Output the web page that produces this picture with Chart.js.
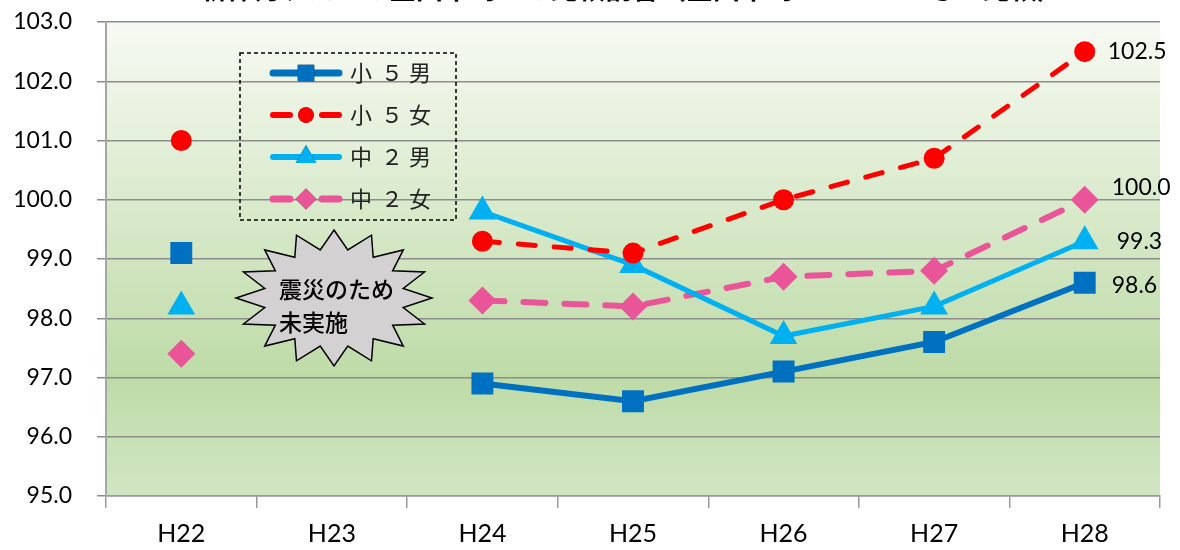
<!DOCTYPE html>
<html lang="ja">
<head>
<meta charset="utf-8">
<title>新体力テスト 全国平均との比較割合</title>
<script src="https://cdn.jsdelivr.net/npm/chart.js@4.4.1/dist/chart.umd.min.js"></script>
<style>
  html, body { margin: 0; padding: 0; background: #fff; }
  #wrap { width: 1180px; height: 550px; }
</style>
</head>
<body>
<div id="wrap"><canvas id="grafico" width="1180" height="550"></canvas></div>
<script>
// Dados do gráfico
const anos = ["H22", "H23", "H24", "H25", "H26", "H27", "H28"];
const sho5Otoko = [99.1, null, 96.9, 96.6, 97.1, 97.6, 98.6];
const sho5Onna = [101.0, null, 99.3, 99.1, 100.0, 100.7, 102.5];
const chu2Otoko = [98.2, null, 99.8, 98.9, 97.7, 98.2, 99.3];
const chu2Onna = [97.4, null, 98.3, 98.2, 98.7, 98.8, 100.0];
const nomes = ["小５男", "小５女", "中２男", "中２女"];
const yMin = 95, yMax = 103;
const titulo = "新体力テストの全国平均との比較割合（全国平均＝１００として比較）";
const aviso = ["震災のため", "未実施"];

const fonteNum = "Lato, 'Open Sans', sans-serif";
const fonteJp = "'Noto Sans CJK JP', sans-serif";

// Fundo em degradê da área do gráfico
const fundoPlugin = {
  id: "fundo",
  beforeDraw(chart) {
    const { ctx, chartArea: a } = chart;
    const g = ctx.createLinearGradient(0, a.top, 0, a.bottom);
    g.addColorStop(0, "#F7FAF3");
    g.addColorStop(0.75, "#BEDBA7");
    g.addColorStop(1, "#D0E6C3");
    ctx.save();
    ctx.fillStyle = g;
    ctx.fillRect(a.left, a.top, a.right - a.left, a.bottom - a.top);
    ctx.restore();
  }
};

// Título cortado no topo, rótulos finais, legenda e estrela
const extrasPlugin = {
  id: "extras",
  afterDatasetsDraw(chart) {
    const ctx = chart.ctx;
    ctx.save();
    // rótulos dos valores em H28
    ctx.font = "23px " + fonteNum;
    ctx.fillStyle = "#000";
    ctx.textBaseline = "middle";
    ctx.textAlign = "left";
    const ajusteX = [27, 23, 32, 27];
    const ajusteY = [3, 0, 0, -12];
    chart.data.datasets.forEach((ds, i) => {
      const meta = chart.getDatasetMeta(i);
      const p = meta.data[ds.data.length - 1];
      const v = ds.data[ds.data.length - 1];
      ctx.fillText(v.toFixed(1), p.x + ajusteX[i], p.y + ajusteY[i]);
    });
    ctx.restore();
  },
  afterDraw(chart) {
    const ctx = chart.ctx;
    ctx.save();

    // título (quase todo fora da tela)
    ctx.font = "bold 27px " + fonteJp;
    ctx.fillStyle = "#000";
    ctx.textAlign = "center";
    ctx.textBaseline = "alphabetic";
    ctx.fillText(titulo, 632, -1);

    // caixa da legenda
    ctx.setLineDash([4, 3]);
    ctx.strokeStyle = "#000";
    ctx.lineWidth = 1.5;
    ctx.strokeRect(240, 53, 216, 167);
    const linhasY = [73, 115, 157, 199];
    const letrasX = [361, 392, 420];
    chart.data.datasets.forEach((ds, i) => {
      const y = linhasY[i];
      ctx.save();
      ctx.strokeStyle = ds.borderColor;
      ctx.lineWidth = ds.borderWidth + 1;
      ctx.lineCap = "round";
      ctx.setLineDash([]);
      ctx.beginPath();
      if (ds.borderDash.length) {
        ctx.moveTo(273, y); ctx.lineTo(290, y);
        ctx.moveTo(322, y); ctx.lineTo(339, y);
      } else {
        ctx.moveTo(273, y); ctx.lineTo(339, y);
      }
      ctx.stroke();
      ctx.restore();
      Chart.helpers.drawPoint(ctx, {
        pointStyle: ds.pointStyle,
        radius: ds.pointRadius * 0.75,
        borderWidth: 0,
        rotation: 0
      }, 306, y);
      ctx.fillStyle = ds.backgroundColor;
      ctx.fill();
      // cada letra separada, como no original
      ctx.fillStyle = "#222";
      ctx.font = "22px " + fonteJp;
      ctx.textAlign = "center";
      ctx.textBaseline = "middle";
      [...nomes[i]].forEach((ch, k) => ctx.fillText(ch, letrasX[k], y));
    });

    // estrela "震災のため未実施"
    const cx = 334, cy = 298, rx = 98, ry = 68, pontas = 16;
    ctx.setLineDash([]);
    ctx.beginPath();
    for (let k = 0; k < pontas * 2; k++) {
      const ang = -Math.PI / 2 + (k * Math.PI) / pontas;
      const f = k % 2 === 0 ? 1 : 0.72;
      const px = cx + Math.cos(ang) * rx * f;
      const py = cy + Math.sin(ang) * ry * f;
      if (k === 0) ctx.moveTo(px, py); else ctx.lineTo(px, py);
    }
    ctx.closePath();
    ctx.fillStyle = "#D3D1D1";
    ctx.fill();
    ctx.strokeStyle = "#000";
    ctx.lineWidth = 1.5;
    ctx.stroke();
    ctx.fillStyle = "#000";
    ctx.font = "500 23px " + fonteJp;
    ctx.textAlign = "left";
    ctx.textBaseline = "middle";
    ctx.fillText(aviso[0], 279, 289);
    ctx.fillText(aviso[1], 279, 322);

    ctx.restore();
  }
};

function serie(dados, cor, estilo, raio, largura, traco) {
  return {
    data: dados,
    borderColor: cor,
    backgroundColor: cor,
    pointBackgroundColor: cor,
    pointBorderColor: cor,
    pointBorderWidth: 0,
    pointStyle: estilo,
    pointRadius: raio,
    pointHoverRadius: raio,
    borderWidth: largura,
    borderDash: traco,
    borderCapStyle: "round",
    tension: 0,
    spanGaps: false
  };
}

document.addEventListener("DOMContentLoaded", function () {
  const ctx = document.getElementById("grafico").getContext("2d");
  new Chart(ctx, {
    type: "line",
    data: {
      labels: anos,
      datasets: [
        serie(sho5Otoko, "#0070C0", "rect", 15.5, 6, []),
        serie(sho5Onna, "#FF0000", "circle", 10.5, 5, [17, 19]),
        serie(chu2Otoko, "#00B0F0", "triangle", 16, 5, []),
        serie(chu2Onna, "#EA5599", "rectRot", 14, 6, [22, 19])
      ]
    },
    options: {
      responsive: false,
      animation: false,
      layout: { padding: { top: 22, right: 20, left: 0, bottom: 0 } },
      plugins: {
        legend: { display: false },
        tooltip: { enabled: false }
      },
      scales: {
        x: {
          offset: true,
          afterFit(s) { s.height = 54; },
          grid: {
            offset: true,
            drawOnChartArea: false,
            color: "#9a9a9a",
            lineWidth: 1.5,
            tickLength: 12
          },
          border: { color: "#9a9a9a", width: 1.5 },
          ticks: {
            color: "#000",
            padding: 11,
            font: { family: fonteNum, size: 25 }
          }
        },
        y: {
          min: yMin,
          max: yMax,
          afterFit(s) {
            s.width = 106;
            s.paddingTop = 0;
            s.paddingBottom = 0;
          },
          grid: {
            color: "#8c8c8c",
            lineWidth: 1.5,
            tickLength: 9
          },
          border: { color: "#a6a6a6", width: 2 },
          ticks: {
            stepSize: 1,
            color: "#000",
            padding: 25,
            font: { family: fonteNum, size: 23 },
            callback: (v) => v.toFixed(1)
          }
        }
      }
    },
    plugins: [fundoPlugin, extrasPlugin]
  });
});
</script>
</body>
</html>
